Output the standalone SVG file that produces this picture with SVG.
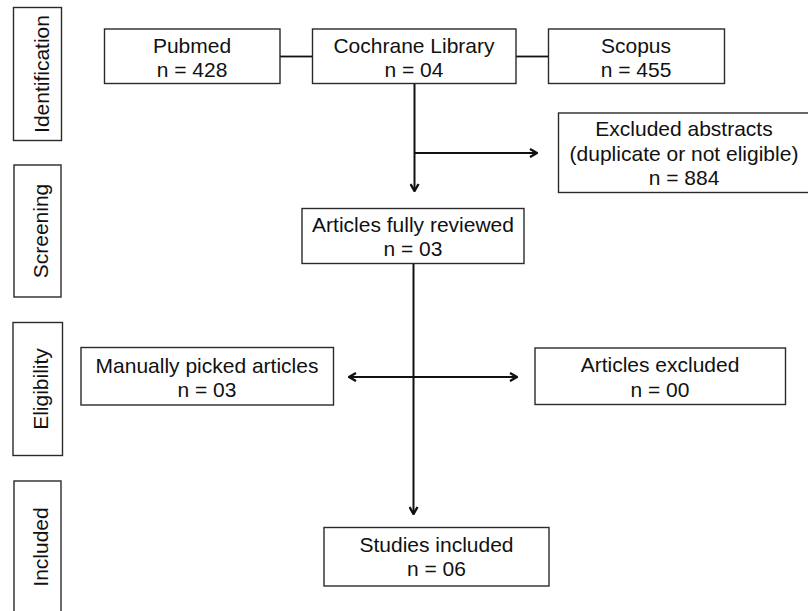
<svg xmlns="http://www.w3.org/2000/svg" width="808" height="611" viewBox="0 0 808 611">
<defs>
<style>
.box{fill:#fff;stroke:#2a2a2a;stroke-width:1.4}
.t{font-family:"Liberation Sans",Arial,sans-serif;font-size:21px;fill:#111;text-anchor:middle}
.c{fill:none;stroke:#111;stroke-width:2}
</style>
<marker id="ah" viewBox="0 0 10 10" refX="9" refY="5" markerWidth="10" markerHeight="10" markerUnits="userSpaceOnUse" orient="auto-start-reverse">
<path d="M2,1 L9,5 L2,9" fill="none" stroke="#111" stroke-width="2.4"/>
</marker>
</defs>
<rect width="808" height="611" fill="#fff"/>
<g id="stage-identification"><rect class="box" x="13.5" y="7.5" width="48" height="133"/><text class="t" transform="translate(48.5,74) rotate(-90)">Identification</text></g>
<g id="stage-screening"><rect class="box" x="14" y="165" width="47" height="132"/><text class="t" transform="translate(48,231) rotate(-90)">Screening</text></g>
<g id="stage-eligibility"><rect class="box" x="13" y="322.5" width="49.5" height="133"/><text class="t" transform="translate(48,389) rotate(-90)">Eligibility</text></g>
<g id="stage-included"><rect class="box" x="14" y="481" width="47" height="140"/><text class="t" transform="translate(48,547) rotate(-90)">Included</text></g>
<g id="connectors">
<line class="c" x1="280" y1="56.5" x2="312" y2="56.5" style="stroke-width:1.8"/>
<line class="c" x1="516" y1="56.5" x2="548" y2="56.5" style="stroke-width:1.8"/>
<line class="c" x1="414.5" y1="83.5" x2="414.5" y2="191" marker-end="url(#ah)"/>
<line class="c" x1="414.5" y1="153" x2="537" y2="153" marker-end="url(#ah)"/>
<line class="c" x1="413.5" y1="263.5" x2="413.5" y2="514" marker-end="url(#ah)"/>
<line class="c" x1="349" y1="377" x2="517" y2="377" marker-start="url(#ah)" marker-end="url(#ah)"/>
</g>
<g id="pubmed"><rect class="box" x="104.5" y="29" width="175.5" height="54.5"/><text class="t" x="192" y="53">Pubmed</text><text class="t" x="192" y="77">n = 428</text></g>
<g id="cochrane"><rect class="box" x="312.5" y="29" width="203.5" height="54.5"/><text class="t" x="414" y="53">Cochrane Library</text><text class="t" x="414" y="77">n = 04</text></g>
<g id="scopus"><rect class="box" x="548.5" y="29" width="176" height="54.5"/><text class="t" x="636" y="53">Scopus</text><text class="t" x="636" y="77">n = 455</text></g>
<g id="excluded-abstracts"><rect class="box" x="558.5" y="113" width="260" height="79.5"/><text class="t" x="684" y="136">Excluded abstracts</text><text class="t" x="684" y="160.5">(duplicate or not eligible)</text><text class="t" x="684" y="185">n = 884</text></g>
<g id="fully-reviewed"><rect class="box" x="302" y="208.5" width="222" height="55"/><text class="t" x="413" y="232">Articles fully reviewed</text><text class="t" x="413" y="256">n = 03</text></g>
<g id="manually-picked"><rect class="box" x="81" y="347.5" width="252.5" height="57.5"/><text class="t" x="207" y="373">Manually picked articles</text><text class="t" x="207" y="397">n = 03</text></g>
<g id="articles-excluded"><rect class="box" x="535" y="348" width="250.5" height="56.5"/><text class="t" x="660" y="372">Articles excluded</text><text class="t" x="660" y="397">n = 00</text></g>
<g id="studies-included"><rect class="box" x="324" y="527.5" width="225" height="58.5"/><text class="t" x="436.5" y="551.5">Studies included</text><text class="t" x="436.5" y="576">n = 06</text></g>
</svg>
